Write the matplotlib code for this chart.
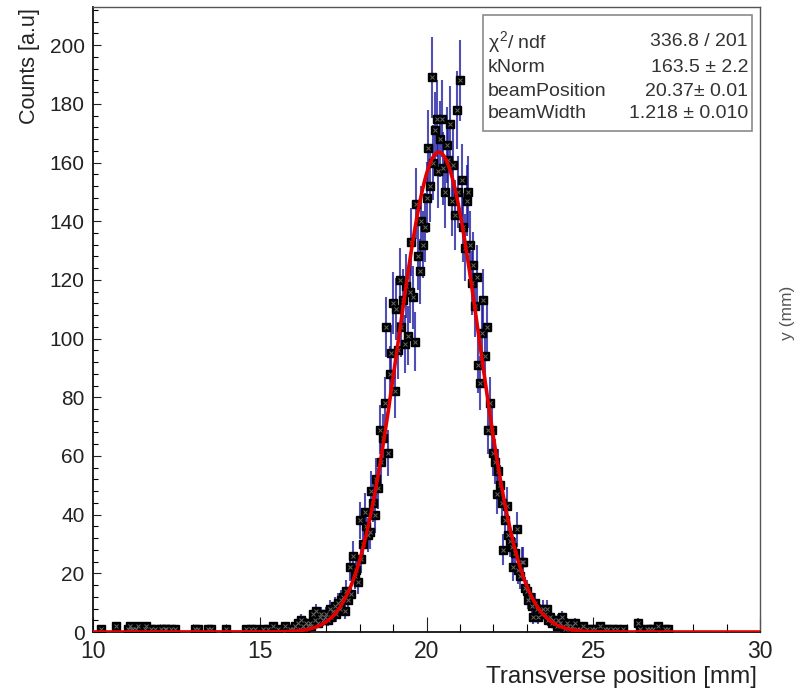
import numpy as np
import matplotlib
matplotlib.use("Agg")
import matplotlib.pyplot as plt
from matplotlib.patches import Rectangle
from matplotlib.ticker import MultipleLocator

plt.rcParams['font.family'] = ['Liberation Sans', 'DejaVu Sans']
plt.rcParams['mathtext.fontset'] = 'custom'
plt.rcParams['mathtext.rm'] = 'Liberation Sans'
plt.rcParams['mathtext.it'] = 'Liberation Sans'

# histogram core: 0.05 mm bins from 16.00 to 24.50 mm
core_start = 16.0
bin_width = 0.05
core_counts = [
    1, 2, 0, 3, 1, 4, 2, 1, 3, 2,                    # 16.00
    3, 2, 6, 4, 7, 3, 5, 6, 4, 5,                    # 16.50
    6, 4, 8, 5, 7, 9, 6, 10, 8, 11,                  # 17.00
    12, 7, 14, 11, 22, 13, 26, 19, 21, 17,           # 17.50
    38, 25, 30, 41, 36, 33, 34, 48, 44, 40,          # 18.00
    52, 49, 69, 58, 66, 78, 104, 61, 88, 95,         # 18.50
    112, 82, 110, 96, 120, 104, 113, 98, 118, 101,   # 19.00
    116, 133, 114, 99, 146, 128, 123, 140, 132, 138, # 19.50
    148, 165, 152, 189, 160, 171, 175, 157, 168, 175,  # 20.00
    158, 150, 166, 161, 173, 147, 159, 142, 178, 150,  # 20.50
    188, 154, 138, 131, 147, 150, 132, 119, 125, 111,  # 21.00
    121, 91, 85, 102, 113, 94, 104, 69, 78, 69,      # 21.50
    61, 58, 47, 55, 50, 44, 28, 38, 43, 33,          # 22.00
    31, 29, 22, 27, 35, 21, 19, 24, 24, 15,          # 22.50
    14, 11, 12, 9, 5, 10, 8, 5, 7, 6,                # 23.00
    8, 6, 8, 4, 5, 3, 4, 3, 2, 4,                    # 23.50
    3, 5, 2, 1, 3, 2, 1, 2, 1, 3,                    # 24.00
    1,                                               # 24.50
]

# sparse tails outside the core
tail_x = [10.25, 10.70, 11.05, 11.10, 11.15, 11.20, 11.30, 11.35, 11.55, 11.60,
          11.75, 11.85, 12.05, 12.15, 12.20, 12.35, 12.45, 13.05, 13.15, 13.45,
          13.55, 14.00, 14.60, 14.75, 14.85, 15.10, 15.25, 15.40, 15.55, 15.75,
          15.90, 24.60, 24.70, 24.80, 24.95, 25.05, 25.20, 25.35, 25.45, 25.60,
          25.70, 25.90, 26.35, 26.40, 26.60, 26.70, 26.80, 26.95, 27.15, 27.25]
tail_counts = [1, 2, 1, 2, 1, 1, 1, 2, 1, 2,
               1, 1, 1, 1, 1, 1, 1, 1, 1, 1,
               1, 1, 1, 1, 1, 1, 1, 2, 1, 2,
               1, 1, 2, 1, 1, 1, 2, 1, 1, 1,
               1, 1, 3, 1, 1, 1, 1, 2, 1, 1]

# gaussian fit result
k_norm = 163.5
beam_position = 20.37
beam_width = 1.218
chi2, ndf = 336.8, 201

core_x = core_start + bin_width * np.arange(len(core_counts))
x = np.concatenate([core_x, tail_x])
y = np.concatenate([core_counts, tail_counts]).astype(float)
keep = y > 0
x, y = x[keep], y[keep]
err = np.sqrt(y)

fig = plt.figure(figsize=(8.05, 6.92), dpi=100)
ax = fig.add_axes([93 / 805, 60 / 692, 667 / 805, 625 / 692])

ax.errorbar(x, y, yerr=err, fmt='none', ecolor=(0.08, 0.08, 0.62),
            elinewidth=1.5, alpha=0.75, capsize=0, zorder=2)
ax.plot(x, y, 's', ms=5.3, mfc='black', mec='black', zorder=3)
ax.plot(x, y, 'x', ms=2.8, mec='#666666', mew=0.7, zorder=4)

xf = np.linspace(10, 30, 800)
yf = k_norm * np.exp(-0.5 * ((xf - beam_position) / beam_width) ** 2)
ax.plot(xf, yf, color='#e30000', lw=2.6, zorder=5)

ax.set_xlim(10, 30)
ax.set_ylim(0, 213)
ax.xaxis.set_major_locator(MultipleLocator(5))
ax.xaxis.set_minor_locator(MultipleLocator(1))
ax.yaxis.set_major_locator(MultipleLocator(20))
ax.yaxis.set_minor_locator(MultipleLocator(4))
ax.tick_params(axis='x', which='major', direction='in', length=10.5, width=0.8,
               labelsize=16.5, pad=6, top=False, colors='#222222')
ax.tick_params(axis='x', which='minor', direction='in', length=5.5, width=0.8, top=False)
ax.tick_params(axis='y', which='major', direction='in', length=6, width=0.8,
               labelsize=15, pad=6, right=False, colors='#222222')
ax.tick_params(axis='y', which='minor', direction='in', length=3.5, width=0.8, right=False)
for s in ['left', 'bottom']:
    ax.spines[s].set_linewidth(1.3)
    ax.spines[s].set_color('#111111')
for s in ['top', 'right']:
    ax.spines[s].set_linewidth(1.0)
    ax.spines[s].set_color('#555555')

fig.text(757 / 805, 1 - 683 / 692, 'Transverse position [mm]', ha='right',
         va='baseline', fontsize=17.5, color='#222222')
fig.text(30 / 805, 1 - 8 / 692, 'Counts [a.u]', rotation=90, ha='center',
         va='top', fontsize=15.5, color='#222222')
fig.text(787 / 805, 1 - 313 / 692, 'y (mm)', rotation=90, ha='center',
         va='center', fontsize=12.5, color='#555555')

# stats box
fig.add_artist(Rectangle((483 / 805, 1 - 131 / 692), 269 / 805, 116 / 692,
                         transform=fig.transFigure, facecolor='white',
                         edgecolor='#8a8a8a', lw=1.2, zorder=10))
rows = [
    (r'$\chi^{2}$/ ndf', f'{chi2} / {ndf}'),
    ('kNorm', f'{k_norm} ± 2.2'),
    ('beamPosition', f'{beam_position}± 0.01'),
    ('beamWidth', f'{beam_width} ± 0.010'),
]
row_y = [42, 67, 91, 113]
for (lab, val), ry in zip(rows, row_y):
    fig.text(488 / 805, 1 - ry / 692, lab, ha='left', va='center',
             fontsize=14, color='#333333', zorder=11)
    fig.text(748 / 805, 1 - ry / 692, val, ha='right', va='center',
             fontsize=14, color='#333333', zorder=11)

fig.savefig('out.png', dpi=100)
